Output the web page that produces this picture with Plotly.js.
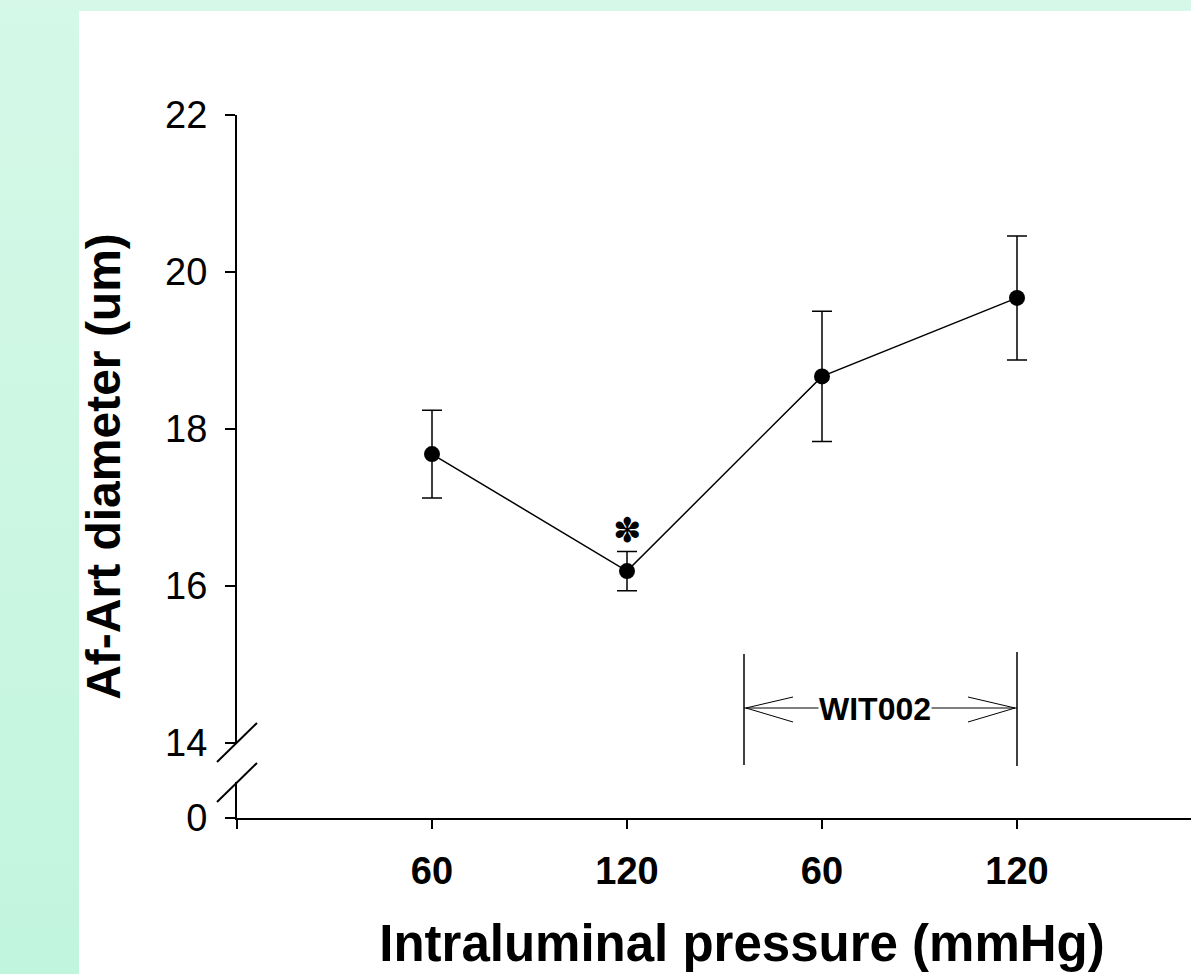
<!DOCTYPE html>
<html>
<head>
<meta charset="utf-8">
<script src="https://cdn.plot.ly/plotly-3.0.1.min.js"></script>
<style>
  html, body { margin:0; padding:0; width:1191px; height:974px; overflow:hidden; }
  body { background: linear-gradient(to bottom, #d5f8e8 0%, #c2f5dd 100%); position:relative; }
  #panel { position:absolute; left:79px; top:11px; right:0; bottom:0; background:#ffffff; }
  #chart { position:absolute; left:0; top:0; }
</style>
</head>
<body>
<div id="panel"></div>
<div id="chart"></div>
<script>
// ---- data ----
const positions = [1, 2, 3, 4];
const pressureLabels = ['60', '120', '60', '120'];
const diameter = [17.68, 16.19, 18.67, 19.67];
const sem = [0.56, 0.25, 0.83, 0.79];
const yTicksUpper = [14, 16, 18, 20, 22];
const yTicksLower = [0];
const bracketLabel = 'WIT002';
const bracketStart = 2.6;   // category-axis position of the bracket's left bar
const bracketEnd = 4;       // category-axis position of the bracket's right bar
const starIndex = 1;        // significant point

const FONT = 'Liberation Sans, Arial, sans-serif';
const L = 237, T = 115, B = 156, R = 18;
const H = 974;
const unitPx = 195;                 // pixels per category step
const plotW = 1010;
const xMax = plotW / unitPx;
const W = L + plotW + R;
const plotH = H - T - B;
const pY = px => (H - B - px) / plotH;       // pixel row -> paper y
const pX = px => (px - L) / plotW;           // pixel col -> paper x
const dX = px => (px - L) / unitPx;          // pixel col -> x data

const traces = [
  {
    type: 'scatter', mode: 'lines+markers',
    x: positions, y: diameter, xaxis: 'x', yaxis: 'y',
    line: {color: '#000', width: 1.5},
    marker: {color: '#000', size: 16},
    error_y: {type: 'data', array: sem, visible: true, color: '#000', thickness: 1.5, width: 10},
    cliponaxis: false, hoverinfo: 'skip', showlegend: false
  },
  {type: 'scatter', x: [], y: [], xaxis: 'x', yaxis: 'y2', showlegend: false},
  {type: 'scatter', x: [], y: [], xaxis: 'x', yaxis: 'y3', showlegend: false}
];

const axisCommon = {
  showline: true, linecolor: '#000', linewidth: 2,
  ticks: 'outside', tickcolor: '#000', tickwidth: 2,
  showgrid: false, zeroline: false, fixedrange: true
};

const upperBottom = pY(743);
const lowerTop = pY(782);

const lineStyle = {color: '#000', width: 1.5};
const axLine = {color: '#000', width: 2};

const shapes = [
  // axis break marks
  {type: 'line', xref: 'paper', yref: 'paper', x0: pX(217), y0: pY(762), x1: pX(257), y1: pY(723), line: axLine},
  {type: 'line', xref: 'paper', yref: 'paper', x0: pX(217), y0: pY(802), x1: pX(257), y1: pY(763), line: axLine},
  // bracket bars
  {type: 'line', xref: 'x', yref: 'paper', x0: bracketStart, x1: bracketStart, y0: pY(765), y1: pY(654), line: lineStyle},
  {type: 'line', xref: 'x', yref: 'paper', x0: bracketEnd, x1: bracketEnd, y0: pY(766), y1: pY(652), line: lineStyle},
  // horizontal double arrow
  {type: 'line', xref: 'x', yref: 'paper', x0: bracketStart, x1: bracketEnd, y0: pY(708), y1: pY(708), line: {color: '#000', width: 1}},
  {type: 'path', xref: 'x', yref: 'paper', line: {color: '#000', width: 1},
   path: `M ${dX(793)} ${pY(697)} L ${bracketStart + 0.01} ${pY(708)} L ${dX(793)} ${pY(722)}`},
  {type: 'path', xref: 'x', yref: 'paper', line: {color: '#000', width: 1},
   path: `M ${dX(968)} ${pY(697)} L ${bracketEnd - 0.01} ${pY(708)} L ${dX(968)} ${pY(722)}`}
];

const annotations = [
  {xref: 'x', yref: 'paper', x: (bracketStart + bracketEnd) / 2 - 0.03, y: pY(709), yshift: -19,
   text: '<b>' + bracketLabel + '</b>', showarrow: false, bgcolor: '#ffffff',
   font: {family: FONT, size: 32, color: '#000'}, borderpad: 0},
  {xref: 'x', yref: 'y', x: positions[starIndex], y: diameter[starIndex] + sem[starIndex] + 0.27,
   text: '✽', showarrow: false, font: {family: 'DejaVu Sans', size: 34, color: '#000'}}
];

const layout = {
  width: W, height: H,
  margin: {l: L, r: R, t: T, b: B, pad: 0},
  paper_bgcolor: 'rgba(0,0,0,0)', plot_bgcolor: 'rgba(0,0,0,0)',
  showlegend: false,
  xaxis: Object.assign({}, axisCommon, {
    anchor: 'y2', range: [0, xMax], domain: [0, 1],
    tickvals: [0].concat(positions), ticktext: [''].concat(pressureLabels),
    ticklen: 9, ticklabelstandoff: 9,
    tickfont: {family: FONT, size: 38, color: '#000', weight: 'bold'},
    title: {text: 'Intraluminal pressure (mmHg)', standoff: 35,
            font: {family: FONT, size: 51, color: '#000', weight: 'bold'}}
  }),
  yaxis: Object.assign({}, axisCommon, {
    anchor: 'x', domain: [upperBottom, 1], range: [14, 22],
    tickvals: yTicksUpper, ticklen: 10, ticklabelstandoff: 10,
    tickfont: {family: FONT, size: 38, color: '#000'}
  }),
  yaxis2: Object.assign({}, axisCommon, {
    anchor: 'x', domain: [0, lowerTop], range: [0, 1],
    tickvals: yTicksLower, ticktext: ['0'], ticklen: 10, ticklabelstandoff: 10,
    tickfont: {family: FONT, size: 38, color: '#000'}
  }),
  yaxis3: {
    anchor: 'x', domain: [0, 1], range: [0, 1], showline: false, showgrid: false,
    zeroline: false, showticklabels: false, ticks: '', fixedrange: true,
    title: {text: 'Af-Art diameter (um)', standoff: 100,
            font: {family: FONT, size: 48, color: '#000', weight: 'bold'}}
  },
  shapes: shapes,
  annotations: annotations
};

Plotly.newPlot('chart', traces, layout, {staticPlot: true, displayModeBar: false});
</script>
</body>
</html>
